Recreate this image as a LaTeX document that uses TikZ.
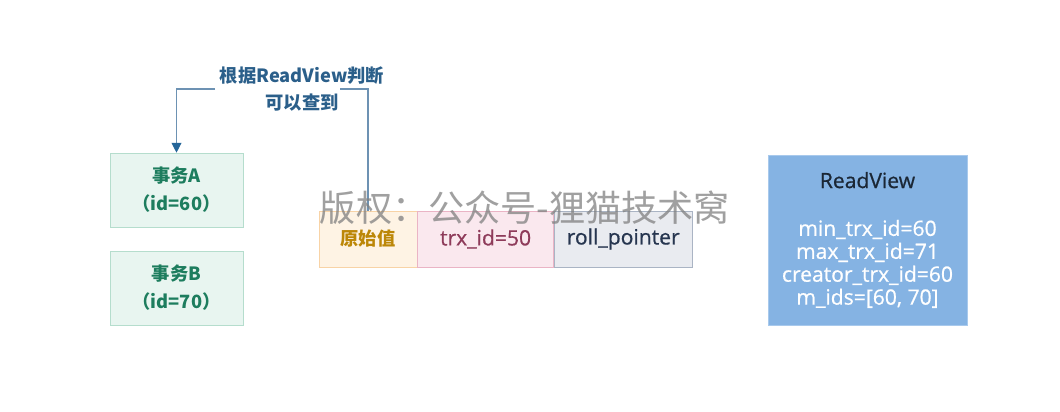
\documentclass[tikz,border=0pt]{standalone}
\usepackage{fontspec}
\setmainfont{Noto Sans CJK SC}
\newfontfamily\latinfont{Open Sans}[FakeBold=0.7]
\definecolor{txfill}{HTML}{E8F5F0}
\definecolor{txline}{HTML}{B5DDCD}
\definecolor{txtext}{HTML}{1D7D5E}
\definecolor{orgfill}{HTML}{FEF3E4}
\definecolor{orgline}{HTML}{F8D3A6}
\definecolor{orgtext}{HTML}{BC8708}
\definecolor{trxfill}{HTML}{FAE8EE}
\definecolor{trxline}{HTML}{EAB4C5}
\definecolor{trxtext}{HTML}{8E3B5A}
\definecolor{rollfill}{HTML}{E9EBF0}
\definecolor{rollline}{HTML}{AAB4C4}
\definecolor{rolltext}{HTML}{26354F}
\definecolor{rvfill}{HTML}{85B3E3}
\definecolor{rvline}{HTML}{A8C9EC}
\definecolor{rvtitle}{HTML}{1B2735}
\definecolor{arrline}{HTML}{6D92B3}
\definecolor{arrhead}{HTML}{256699}
\definecolor{arrtext}{HTML}{2B5F8A}
\usepackage{tikz}
\usetikzlibrary{arrows.meta,positioning}

\begin{document}
\begin{tikzpicture}[x=0.025cm,y=-0.025cm,
    txbox/.style={draw=txline,fill=txfill,text=txtext,font=\bfseries\fontsize{13}{19.8}\selectfont,
      align=center,minimum width=3.33cm,minimum height=1.85cm,inner sep=0pt},
    cell/.style={minimum height=1.4cm,inner sep=0pt,font=\latinfont\fontsize{15}{16}\selectfont}]
        \useasboundingbox (0,0) rectangle (1060,412);
        % ---- transactions ----
        \node[txbox] (txA) at (176.5,190) {事务A\\（id=60）};
        \node[txbox] (txB) at (176.5,288) {事务B\\（id=70）};
        % ---- row record ----
        \node[cell,draw=orgline,fill=orgfill,text=orgtext,font=\bfseries\fontsize{13}{16}\selectfont,
          minimum width=2.45cm] (orig) at (368,239) {原始值};
        \node[cell,draw=trxline,fill=trxfill,text=trxtext,minimum width=3.4cm,
          right=0pt of orig] (trx) {trx\_id=50};
        \node[cell,draw=rollline,fill=rollfill,text=rolltext,minimum width=3.45cm,
          right=0pt of trx] (roll) {roll\_pointer};
        % ---- ReadView ----
        \node[draw=rvline,fill=rvfill,text=white,align=center,inner sep=0pt,
          minimum width=4.98cm,minimum height=4.25cm,font=\latinfont\fontsize{15}{16.3}\selectfont]
          (rv) at (867.5,240)
          {{\color{rvtitle}ReadView}\\[17.7pt]min\_trx\_id=60\\max\_trx\_id=71\\
           creator\_trx\_id=60\\m\_ids=[60, 70]};
        % ---- arrow with label ----
        \node[text=arrtext,font=\bfseries\fontsize{13}{19.8}\selectfont,align=center]
          (lbl) at (302,89) {根据ReadView判断\\可以查到};
        \coordinate (gapR) at ([xshift=0.95cm]lbl.center);
        \coordinate (gapL) at ([xshift=-2.17cm]lbl.center);
        \draw[arrline,thick] (orig.north) |- (gapR);
        \draw[arrline,thick,-{Triangle[length=7pt,width=7pt,color=arrhead]}]
          (gapL) -| (txA.north);
        % ---- watermark ----
        \node[text=gray,opacity=0.75,font=\fontsize{25.7}{30}\selectfont] (wm)
          at (525,208) {版权：公众号-狸猫技术窝};
\end{tikzpicture}
\end{document}
